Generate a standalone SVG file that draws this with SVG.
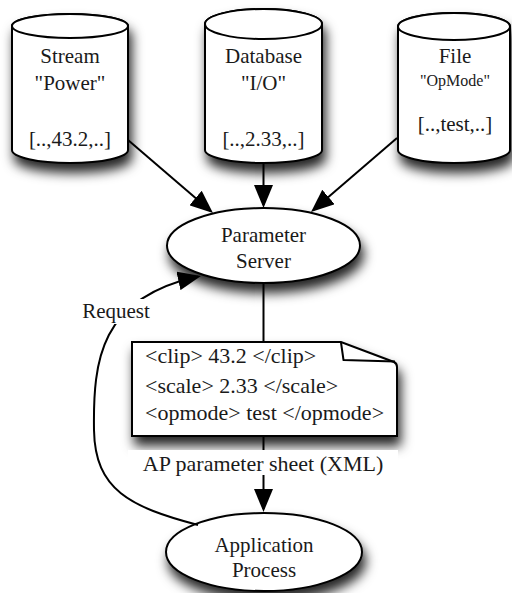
<svg xmlns="http://www.w3.org/2000/svg" width="512" height="593" viewBox="0 0 512 593">
  <style>
    .shape { fill: #fff; stroke: #000; stroke-width: 2; }
    .edge { fill: none; stroke: #000; stroke-width: 2; }
    .fold { fill: none; stroke: #000; stroke-width: 2; stroke-linejoin: round; }
    text { font-family: "Liberation Serif", "Times New Roman", serif; fill: #1a1a1a; }
    .t { font-size: 21px; text-anchor: middle; }
    .small { font-size: 16px; text-anchor: middle; }
    .code { font-size: 22px; }
    .lbl { font-size: 22px; text-anchor: middle; }
  </style>
  <defs>
    <filter id="shadow" x="-30%" y="-30%" width="170%" height="190%">
      <feDropShadow dx="3" dy="9" stdDeviation="6" flood-color="#000" flood-opacity="0.85"/>
    </filter>
    <marker id="arrow" markerUnits="userSpaceOnUse" markerWidth="23" markerHeight="19" viewBox="0 0 23 19" refX="20" refY="9.5" orient="auto">
      <path d="M0,0 L23,9.5 L0,19 Z" fill="#000"/>
    </marker>
  </defs>

  <rect width="512" height="593" fill="#fff"/>

  <!-- Stream cylinder -->
  <g id="stream">
    <path class="shape" filter="url(#shadow)" d="M12,26 A58,12 0 0 1 128,26 L128,150 A58,13 0 0 1 12,150 Z"/>
    <ellipse class="shape" cx="70" cy="26" rx="58" ry="12"/>
    <text class="t" x="70" y="63">Stream</text>
    <text class="t" x="70" y="90">"Power"</text>
    <text class="t" x="70" y="146">[..,43.2,..]</text>
  </g>

  <!-- Database cylinder -->
  <g id="database">
    <path class="shape" filter="url(#shadow)" d="M205,24 A58.5,15 0 0 1 322,24 L322,150 A58.5,13 0 0 1 205,150 Z"/>
    <ellipse class="shape" cx="263.5" cy="24" rx="58.5" ry="15"/>
    <text class="t" x="263.5" y="63">Database</text>
    <text class="t" x="263.5" y="90">"I/O"</text>
    <text class="t" x="263.5" y="146">[..,2.33,..]</text>
  </g>

  <!-- File cylinder -->
  <g id="file">
    <path class="shape" filter="url(#shadow)" d="M398,26.5 A56,13.5 0 0 1 510,26.5 L510,150 A56,13 0 0 1 398,150 Z"/>
    <ellipse class="shape" cx="454" cy="26.5" rx="56" ry="13.5"/>
    <text class="t" x="455" y="63">File</text>
    <text class="small" x="455" y="86">"OpMode"</text>
    <text class="t" x="455" y="131">[..,test,..]</text>
  </g>

  <!-- Parameter Server -->
  <g id="parameter-server">
    <ellipse class="shape" filter="url(#shadow)" cx="263.5" cy="245.5" rx="96.5" ry="37.5"/>
    <text class="t" x="263.5" y="242">Parameter</text>
    <text class="t" x="263.5" y="268">Server</text>
  </g>

  <!-- Parameter sheet document with folded corner -->
  <g id="parameter-sheet">
    <path class="shape" filter="url(#shadow)" d="M132,342 H341 L394,362 Q397,363.5 397,367 V436 H132 Z"/>
    <path class="fold" d="M341,342.5 L343.5,360 L395,361.5"/>
    <text class="code" x="145" y="363">&lt;clip&gt; 43.2 &lt;/clip&gt;</text>
    <text class="code" x="145" y="393">&lt;scale&gt; 2.33 &lt;/scale&gt;</text>
    <text class="code" x="145" y="420">&lt;opmode&gt; test &lt;/opmode&gt;</text>
  </g>

  <!-- Application Process -->
  <g id="application-process">
    <ellipse class="shape" filter="url(#shadow)" cx="264" cy="552" rx="98" ry="39"/>
    <text class="t" x="264" y="552">Application</text>
    <text class="t" x="264" y="577">Process</text>
  </g>

  <!-- Connectors -->
  <g id="connectors">
    <path class="edge" d="M128,140 L210.7,211" marker-end="url(#arrow)"/>
    <path class="edge" d="M263.5,163 L263.5,205" marker-end="url(#arrow)"/>
    <path class="edge" d="M397,138 L313.3,210" marker-end="url(#arrow)"/>
    <path class="edge" d="M263.5,283 L263.5,342"/>
    <path class="edge" d="M263.5,436 L263.5,509" marker-end="url(#arrow)"/>
    <rect x="128" y="450" width="270" height="25" fill="#fff"/>
    <text class="lbl" x="263" y="471">AP parameter sheet (XML)</text>
    <path class="edge" d="M198,525 C130,507 95,490 94,430 C93,360 100,298 198,276.6" marker-end="url(#arrow)"/>
    <rect x="80" y="299" width="72" height="25" fill="#fff"/>
    <text class="t" x="116" y="318">Request</text>
  </g>
</svg>
